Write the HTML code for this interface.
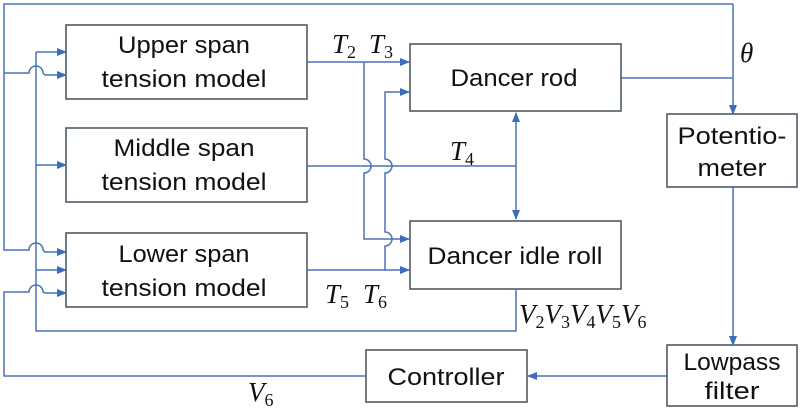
<!DOCTYPE html>
<html><head><meta charset="utf-8"><style>
html,body{margin:0;padding:0;background:#fff}
svg{display:block}
.b{fill:#fff;stroke:#505a66;stroke-width:1.6}
.l{fill:none;stroke:#4a72b8;stroke-width:1.5}
.t{font-family:"Liberation Sans",sans-serif;font-size:24px;fill:#111;text-anchor:middle}
.m{font-family:"Liberation Serif",serif;font-style:italic;font-size:27px;fill:#111}
.s{font-family:"Liberation Serif",serif;font-size:18px;fill:#111;font-style:normal}
</style></head><body>
<svg width="800" height="412" viewBox="0 0 800 412" xmlns="http://www.w3.org/2000/svg">
<defs><marker id="a" markerWidth="10" markerHeight="8" refX="9" refY="4" orient="auto" markerUnits="userSpaceOnUse"><path d="M0,0 L10,4 L0,8 z" fill="#3a6cc0"/></marker>
<marker id="r" markerWidth="10" markerHeight="8" refX="1" refY="4" orient="auto" markerUnits="userSpaceOnUse"><path d="M10,0 L0,4 L10,8 z" fill="#3a6cc0"/></marker></defs>

<path class="l" d="M733,4 L4,4 L4,250 L29,250 A7,7 0 0 1 43,250 L45,252 L66,252" marker-end="url(#a)"/>
<path class="l" d="M4,73 L29,73 A7,7 0 0 1 43,73 L45,75 L66,75" marker-end="url(#a)"/>
<path class="l" d="M36,52 L66,52" marker-end="url(#a)"/>
<path class="l" d="M36,165 L66,165" marker-end="url(#a)"/>
<path class="l" d="M36,270 L66,270" marker-end="url(#a)"/>
<path class="l" d="M36,52 L36,331 L516,331 L516,290"/>
<path class="l" d="M365,376 L4,376 L4,292 L29,292 A7,7 0 0 1 43,292 L45,293 L66,293" marker-end="url(#a)"/>

<path class="l" d="M307,62 L409,62" marker-end="url(#a)"/>
<path class="l" d="M364,62 L364,159 A7,7 0 0 1 364,173 L364,239 L409,239" marker-end="url(#a)"/>
<path class="l" d="M307,270 L409,270" marker-end="url(#a)"/>
<path class="l" d="M385,270 L385,246 A7,7 0 0 0 385,232 L385,173 A7,7 0 0 0 385,159 L385,92 L409,92" marker-end="url(#a)"/>
<path class="l" d="M307,166 L516,166"/>
<path class="l" d="M516,113 L516,219" marker-start="url(#r)" marker-end="url(#a)"/>

<path class="l" d="M621,78 L733,78"/>
<path class="l" d="M733,4 L733,114" marker-end="url(#a)"/>
<path class="l" d="M733,187 L733,345" marker-end="url(#a)"/>
<path class="l" d="M667,376 L528,376" marker-end="url(#a)"/>

<rect class="b" x="66" y="25" width="241" height="74"/>
<rect class="b" x="66" y="128" width="241" height="74"/>
<rect class="b" x="66" y="233" width="241" height="74"/>
<rect class="b" x="410" y="44" width="211" height="67"/>
<rect class="b" x="410" y="221" width="211" height="68"/>
<rect class="b" x="667" y="114" width="130" height="73"/>
<rect class="b" x="667" y="345" width="130" height="61"/>
<rect class="b" x="366" y="350" width="161" height="52"/>

<text class="t" x="184" y="53" textLength="132" lengthAdjust="spacingAndGlyphs">Upper span</text>
<text class="t" x="184" y="87" textLength="165" lengthAdjust="spacingAndGlyphs">tension model</text>
<text class="t" x="184" y="156" textLength="141" lengthAdjust="spacingAndGlyphs">Middle span</text>
<text class="t" x="184" y="190" textLength="165" lengthAdjust="spacingAndGlyphs">tension model</text>
<text class="t" x="184" y="262" textLength="131" lengthAdjust="spacingAndGlyphs">Lower span</text>
<text class="t" x="184" y="296" textLength="165" lengthAdjust="spacingAndGlyphs">tension model</text>
<text class="t" x="514" y="86" textLength="127" lengthAdjust="spacingAndGlyphs">Dancer rod</text>
<text class="t" x="515" y="264" textLength="175" lengthAdjust="spacingAndGlyphs">Dancer idle roll</text>
<text class="t" x="732" y="144" textLength="109" lengthAdjust="spacingAndGlyphs">Potentio-</text>
<text class="t" x="732" y="176" textLength="69" lengthAdjust="spacingAndGlyphs">meter</text>
<text class="t" x="732" y="370" textLength="97" lengthAdjust="spacingAndGlyphs">Lowpass</text>
<text class="t" x="732" y="399" textLength="55" lengthAdjust="spacingAndGlyphs">filter</text>
<text class="t" x="446" y="385" textLength="117" lengthAdjust="spacingAndGlyphs">Controller</text>

<text class="m" x="332" y="53">T<tspan class="s" dy="5">2</tspan></text>
<text class="m" x="369" y="53">T<tspan class="s" dy="5">3</tspan></text>
<text class="m" x="450" y="160">T<tspan class="s" dy="5">4</tspan></text>
<text class="m" x="325" y="303">T<tspan class="s" dy="5">5</tspan></text>
<text class="m" x="363" y="303">T<tspan class="s" dy="5">6</tspan></text>
<text class="m" x="740" y="62">θ</text>
<text class="m" x="519" y="323">V<tspan class="s" dy="5">2</tspan><tspan dy="-5">V</tspan><tspan class="s" dy="5">3</tspan><tspan dy="-5">V</tspan><tspan class="s" dy="5">4</tspan><tspan dy="-5">V</tspan><tspan class="s" dy="5">5</tspan><tspan dy="-5">V</tspan><tspan class="s" dy="5">6</tspan></text>
<text class="m" x="248" y="401">V<tspan class="s" dy="5">6</tspan></text>
</svg>
</body></html>
